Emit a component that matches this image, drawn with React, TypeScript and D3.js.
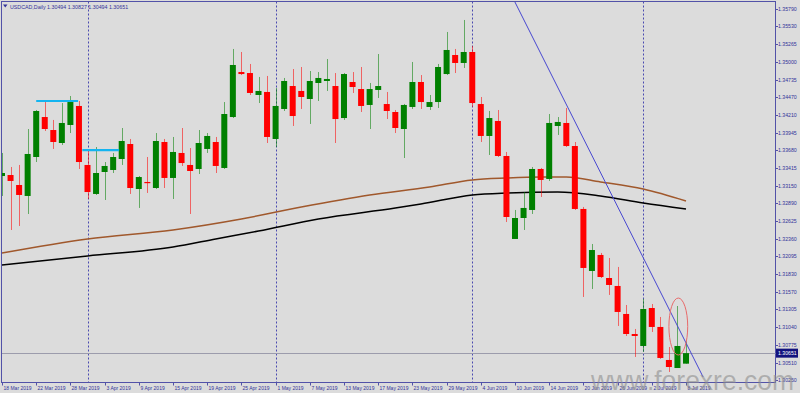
import React from 'react';
import * as d3 from 'd3';

const symbol = 'USDCAD,Daily';
const headerQuote = ['1.30494', '1.30827', '1.30494', '1.30651'];

// OHLC per daily bar, 18 Mar 2019 .. 8 Jul 2019
const opens = [1.33296,1.33311,1.33162,1.32998,1.33580,1.34177,1.33983,1.33789,1.34058,1.34342,
  1.33461,1.33028,1.33356,1.33386,1.33550,1.33774,1.33102,1.33207,1.33117,1.33804,
  1.33267,1.33640,1.33461,1.33401,1.33700,1.33804,1.33416,1.34177,1.34849,1.34834,
  1.34506,1.34551,1.33849,1.34297,1.34640,1.34566,1.34446,1.34685,1.34715,1.34640,
  1.34162,1.34700,1.34595,1.34357,1.34581,1.34371,1.34252,1.33998,1.34327,1.34700,
  1.34327,1.34401,1.34819,1.35103,1.34984,1.35148,1.34371,1.33894,1.34118,1.33595,
  1.32356,1.32669,1.32789,1.33401,1.33252,1.34043,1.34088,1.33744,1.32804,1.31878,
  1.32117,1.31773,1.31654,1.31236,1.30937,1.30758,1.31325,1.31042,1.30549,1.30429,1.30494];
const highs = [1.33640,1.33431,1.33461,1.33998,1.34282,1.34431,1.34133,1.34386,1.34491,1.34416,
  1.33685,1.33729,1.33505,1.33640,1.34013,1.33849,1.33296,1.33580,1.33938,1.33849,
  1.33879,1.34013,1.33714,1.33983,1.33938,1.33879,1.34401,1.35193,1.35148,1.34969,
  1.34775,1.34790,1.34610,1.34760,1.34894,1.34924,1.34864,1.34849,1.35043,1.34834,
  1.34834,1.34849,1.34924,1.34685,1.35118,1.34551,1.34282,1.34372,1.34999,1.34804,
  1.34506,1.34969,1.35447,1.35193,1.35626,1.35238,1.34476,1.34267,1.34282,1.33655,
  1.32789,1.33057,1.33431,1.33416,1.34222,1.34177,1.34312,1.33804,1.32834,1.32281,
  1.32147,1.32072,1.31938,1.31370,1.31012,1.31460,1.31385,1.31191,1.30743,1.31355,1.30827];
const lows = [1.32998,1.32490,1.32550,1.32729,1.33505,1.33968,1.33700,1.33759,1.33938,1.33401,
  1.32953,1.33013,1.32938,1.33341,1.33461,1.33028,1.32819,1.33043,1.33102,1.33117,
  1.32953,1.33446,1.32729,1.33326,1.33640,1.33341,1.33401,1.34162,1.34804,1.34506,
  1.34386,1.33789,1.33729,1.34267,1.34043,1.34297,1.34073,1.34416,1.34566,1.33789,
  1.34133,1.34536,1.34252,1.33998,1.34461,1.34147,1.33938,1.33565,1.34297,1.34297,
  1.34282,1.34312,1.34804,1.34834,1.34909,1.34327,1.33804,1.33610,1.33580,1.32609,
  1.32356,1.32490,1.32729,1.32983,1.33222,1.33909,1.33729,1.32789,1.31490,1.31609,
  1.31773,1.31520,1.31057,1.30907,1.30594,1.30668,1.30967,1.30564,1.30370,1.30429,1.30494];
const closes = [1.33341,1.33222,1.33013,1.33625,1.34267,1.33998,1.33804,1.34088,1.34401,1.33505,
  1.33057,1.33341,1.33446,1.33580,1.33819,1.33117,1.33281,1.33192,1.33819,1.33267,
  1.33655,1.33490,1.33371,1.33789,1.33894,1.33446,1.34222,1.34954,1.34819,1.34536,
  1.34566,1.33879,1.34342,1.34715,1.34192,1.34476,1.34715,1.34760,1.34745,1.34147,
  1.34819,1.34625,1.34342,1.34595,1.34640,1.34267,1.34013,1.34357,1.34700,1.34401,
  1.34401,1.34924,1.35178,1.34984,1.35148,1.34386,1.33894,1.34162,1.33595,1.32684,
  1.32669,1.32819,1.33401,1.33237,1.34088,1.34103,1.33744,1.32804,1.31923,1.32191,
  1.31788,1.31669,1.31266,1.30937,1.30907,1.31310,1.31042,1.30579,1.30444,1.30758,1.30651];

const xTickIdx = [0,4,8,12,16,20,24,28,32,36,40,44,48,52,56,60,64,68,72,76,80];
const xTickLabels = ['18 Mar 2019','22 Mar 2019','28 Mar 2019','3 Apr 2019','9 Apr 2019','15 Apr 2019',
  '19 Apr 2019','25 Apr 2019','1 May 2019','7 May 2019','13 May 2019','17 May 2019','23 May 2019',
  '29 May 2019','4 Jun 2019','10 Jun 2019','14 Jun 2019','20 Jun 2019','26 Jun 2019','2 Jul 2019','8 Jul 2019'];
const monthStartIdx = [10, 32, 55, 75];

const yTickLabels = ['1.35790','1.35530','1.35265','1.35000','1.34735','1.34470','1.34210','1.33945',
  '1.33680','1.33415','1.33150','1.32890','1.32625','1.32360','1.32095','1.31830','1.31570','1.31305',
  '1.31040','1.30775','1.30510','1.30250'];
const bidPrice = 1.30651;

// moving averages (brown = shorter, black = longer)
const maBrownIdx = [0,10,20,28,35,43,50,55,59,63,66,70,75,80];
const maBrownVal = [1.32146,1.32356,1.32490,1.32654,1.32833,1.33013,1.33132,1.33237,1.33266,1.33281,1.33281,1.33207,1.33102,1.32923];
const maBlackIdx = [0,10,20,25,30,37,46,49,55,59,65,70,75,80];
const maBlackVal = [1.31967,1.32102,1.32236,1.32356,1.32475,1.32654,1.32818,1.32878,1.33013,1.33042,1.33057,1.32998,1.32893,1.32803];

// drawn objects
const levelFrom = [4, 9.4];
const levelTo = [8.9, 13.7];
const levelPrice = [1.34416, 1.33684];
const trendIdx = [58.7, 82.0];
const trendPrice = [1.36223, 1.30295];
const ellipseIdx = [78.0, 80.2];
const ellipsePrice = [1.30623, 1.31474];

const W = 800, H = 393;
const frame = { l: 1.5, t: 1.5, r: 775.5, b: 382.5 };
const navy = '#33339a';
const font = '"Liberation Sans", Arial, sans-serif';

export default function App() {
  const x = d3.scaleLinear().domain([0, 80]).range([2, 686]);
  const y = d3.scaleLinear().domain([1.3025, 1.3579]).range([380, 9]);

  const brownLine = d3.line<number>().x((d, i) => x(maBrownIdx[i])).y(d => y(d)).curve(d3.curveMonotoneX)(maBrownVal) || '';
  const blackLine = d3.line<number>().x((d, i) => x(maBlackIdx[i])).y(d => y(d)).curve(d3.curveMonotoneX)(maBlackVal) || '';

  const bodyW = 6;
  const bidY = y(bidPrice);

  return (
    <svg width={W} height={H} style={{ position: 'absolute', left: 0, top: 0, background: '#dcdcdc' }}
      xmlns="http://www.w3.org/2000/svg">
      <defs>
        <clipPath id="plot">
          <rect x={frame.l} y={frame.t} width={frame.r - frame.l} height={frame.b - frame.t} />
        </clipPath>
      </defs>
      <rect x={0} y={0} width={W} height={H} fill="#dcdcdc" />

      <g clipPath="url(#plot)">
        {monthStartIdx.map((m) => (
          <line key={'m' + m} x1={Math.round(x(m)) + 0.5} x2={Math.round(x(m)) + 0.5} y1={frame.t} y2={frame.b}
            stroke="#4a4ab0" strokeWidth={1} strokeDasharray="2,2" />
        ))}
        <line x1={frame.l} x2={frame.r} y1={Math.round(bidY) + 0.5} y2={Math.round(bidY) + 0.5} stroke="#9c9cac" strokeWidth={1} />

        <path d={brownLine} fill="none" stroke="#a0582c" strokeWidth={1.5} />
        <path d={blackLine} fill="none" stroke="#000000" strokeWidth={1.6} />

        {opens.map((o, i) => {
          const c = closes[i];
          const up = c >= o;
          const col = up ? '#008000' : '#ff0000';
          const cx = x(i);
          const top = y(Math.max(o, c));
          const bot = y(Math.min(o, c));
          return (
            <g key={'c' + i}>
              <line x1={Math.round(cx) + 0.5} x2={Math.round(cx) + 0.5} y1={y(highs[i])} y2={y(lows[i])}
                stroke={col} strokeWidth={1} strokeOpacity={0.55} />
              <rect x={cx - bodyW / 2} y={top} width={bodyW} height={Math.max(1.2, bot - top)} fill={col} />
            </g>
          );
        })}

        {levelPrice.map((p, k) => (
          <line key={'lv' + k} x1={x(levelFrom[k])} x2={x(levelTo[k])} y1={y(p)} y2={y(p)}
            stroke="#14b4f0" strokeWidth={2.2} />
        ))}

        <line x1={x(trendIdx[0])} y1={y(trendPrice[0])} x2={x(trendIdx[1])} y2={y(trendPrice[1])}
          stroke="#4848d0" strokeWidth={1} />

        <ellipse cx={(x(ellipseIdx[0]) + x(ellipseIdx[1])) / 2} cy={(y(ellipsePrice[0]) + y(ellipsePrice[1])) / 2}
          rx={(x(ellipseIdx[1]) - x(ellipseIdx[0])) / 2} ry={(y(ellipsePrice[0]) - y(ellipsePrice[1])) / 2}
          fill="none" stroke="#e86a6a" strokeWidth={1} />
      </g>

      <rect x={frame.l} y={frame.t} width={frame.r - frame.l} height={frame.b - frame.t} fill="none" stroke="#5252a8" strokeWidth={1} />
      <line x1={frame.r} x2={frame.r + 10} y1={Math.round(bidY) + 0.5} y2={Math.round(bidY) + 0.5} stroke="#9c9cac" strokeWidth={1} />

      <path d="M3,4.5 L7.5,4.5 L5.25,7.5 Z" fill={navy} />
      <text x={10} y={9} fontFamily={font} fontSize={5.3} fill={navy}>
        {symbol + '  ' + headerQuote.join(' ')}
      </text>

      {yTickLabels.map((t) => {
        const yy = Math.round(y(+t)) + 0.5;
        return (
          <g key={'y' + t}>
            <line x1={frame.r} x2={frame.r + 2.5} y1={yy} y2={yy} stroke="#5252a8" strokeWidth={1} />
            <text x={778} y={yy + 1.9} fontFamily={font} fontSize={5.2} fill={navy}>{t}</text>
          </g>
        );
      })}
      <rect x={776} y={bidY - 4.5} width={22} height={9} fill="#12127e" />
      <text x={778} y={bidY + 1.9} fontFamily={font} fontSize={5.2} fill="#ffffff">{bidPrice.toFixed(5)}</text>

      {xTickIdx.map((ti, k) => {
        const xx = Math.round(x(ti)) + 0.5;
        return (
          <g key={'x' + ti}>
            <line x1={xx} x2={xx} y1={frame.b} y2={frame.b + 3} stroke="#5252a8" strokeWidth={1} />
            <text x={xx + 1} y={389.5} fontFamily={font} fontSize={5} fill={navy}>{xTickLabels[k]}</text>
          </g>
        );
      })}

      <text x={591} y={390} fontFamily={font} fontSize={28} textLength={203} lengthAdjust="spacingAndGlyphs"
        fill="#8e8e8e" fillOpacity={0.6}>www.forexre.com</text>
    </svg>
  );
}
